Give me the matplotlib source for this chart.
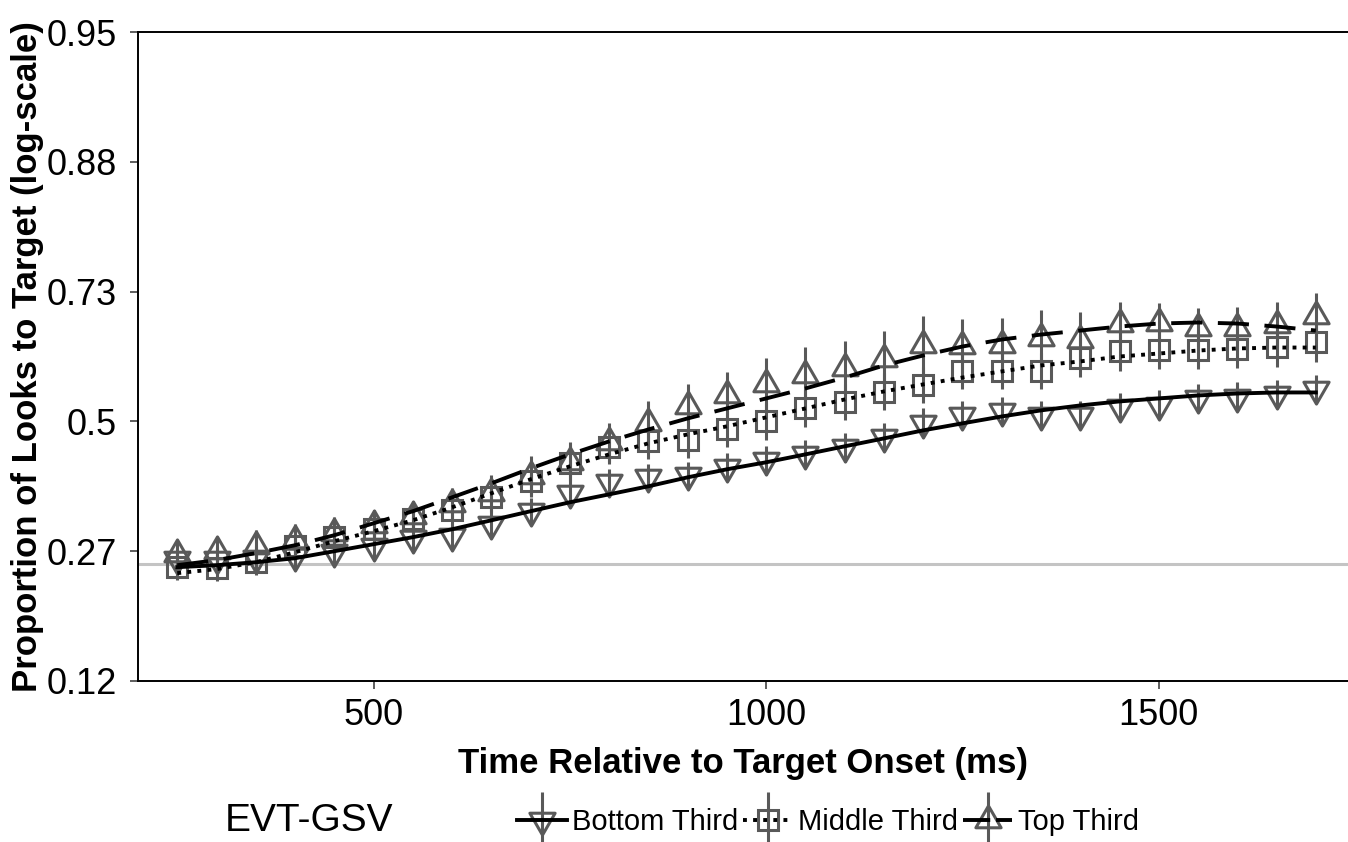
import numpy as np
import matplotlib
matplotlib.use('Agg')
import matplotlib.pyplot as plt
from matplotlib.path import Path
from matplotlib.lines import Line2D
from matplotlib.legend_handler import HandlerTuple

plt.rcParams['font.family'] = ['Liberation Sans', 'DejaVu Sans']

# time bins (ms)
time_ms = [250, 300, 350, 400, 450, 500, 550, 600, 650, 700, 750, 800, 850, 900, 950,
           1000, 1050, 1100, 1150, 1200, 1250, 1300, 1350, 1400, 1450, 1500, 1550, 1600, 1650, 1700]

# observed empirical logits (marker) per group
obs_bottom = [-1.06, -1.06, -1.05, -1.04, -1.01, -0.96, -0.90, -0.88, -0.79, -0.69, -0.55, -0.47, -0.43, -0.41, -0.35,
              -0.30, -0.25, -0.20, -0.12, -0.01, 0.05, 0.08, 0.05, 0.05, 0.11, 0.13, 0.18, 0.19, 0.21, 0.25]
obs_middle = [-1.12, -1.13, -1.08, -0.96, -0.89, -0.83, -0.75, -0.68, -0.58, -0.46, -0.32, -0.20, -0.15, -0.14, -0.06,
              0.00, 0.10, 0.15, 0.23, 0.28, 0.39, 0.39, 0.39, 0.49, 0.54, 0.55, 0.55, 0.56, 0.57, 0.61]
obs_top = [-1.02, -1.00, -0.96, -0.91, -0.86, -0.80, -0.73, -0.64, -0.55, -0.42, -0.31, -0.16, -0.01, 0.12, 0.20,
           0.29, 0.36, 0.41, 0.48, 0.59, 0.58, 0.59, 0.64, 0.63, 0.75, 0.76, 0.72, 0.72, 0.74, 0.81]

# standard errors
se_bottom = [0.09, 0.09, 0.09, 0.09, 0.09, 0.10, 0.10, 0.10, 0.10, 0.10, 0.10, 0.10, 0.10, 0.10, 0.11,
             0.11, 0.11, 0.11, 0.11, 0.11, 0.11, 0.11, 0.11, 0.11, 0.11, 0.11, 0.11, 0.11, 0.11, 0.11]
se_middle = [0.10, 0.10, 0.10, 0.10, 0.11, 0.11, 0.11, 0.12, 0.12, 0.12, 0.13, 0.13, 0.14, 0.14, 0.14,
             0.14, 0.14, 0.14, 0.14, 0.14, 0.14, 0.14, 0.14, 0.15, 0.15, 0.15, 0.15, 0.15, 0.15, 0.15]
se_top = [0.11, 0.11, 0.12, 0.12, 0.12, 0.12, 0.12, 0.13, 0.14, 0.15, 0.15, 0.15, 0.17, 0.17, 0.18,
          0.20, 0.21, 0.21, 0.22, 0.22, 0.21, 0.21, 0.22, 0.21, 0.17, 0.15, 0.15, 0.16, 0.18, 0.18]

# model fits
fit_bottom = [-1.123, -1.108, -1.085, -1.054, -1.000, -0.946, -0.892, -0.831, -0.762, -0.692, -0.623, -0.562, -0.500,
              -0.431, -0.369, -0.315, -0.254, -0.192, -0.131, -0.069, -0.015, 0.038, 0.085, 0.123, 0.154, 0.177,
              0.200, 0.215, 0.223, 0.223]
fit_middle = [-1.169, -1.138, -1.085, -1.008, -0.923, -0.846, -0.762, -0.662, -0.554, -0.446, -0.346, -0.254, -0.169,
              -0.100, -0.038, 0.031, 0.100, 0.169, 0.231, 0.285, 0.338, 0.385, 0.431, 0.462, 0.500, 0.523,
              0.546, 0.562, 0.569, 0.569]
fit_top = [-1.108, -1.069, -1.015, -0.954, -0.877, -0.785, -0.692, -0.585, -0.477, -0.362, -0.254, -0.154, -0.062,
           0.023, 0.100, 0.177, 0.254, 0.338, 0.431, 0.508, 0.577, 0.631, 0.669, 0.700, 0.731, 0.754,
           0.762, 0.754, 0.731, 0.700]

groups = ['Bottom Third', 'Middle Third', 'Top Third']
y_ticks = [-2, -1, 0, 1, 2, 3]
y_ticklabels = ['0.12', '0.27', '0.5', '0.73', '0.88', '0.95']
x_ticks = [500, 1000, 1500]
chance = 0.25

gray = '#595959'
# triangles centred on their centroid, like R's pch 2 / 6
tri_up = Path([(0, 1), (-0.866, -0.5), (0.866, -0.5), (0, 1)],
              [Path.MOVETO, Path.LINETO, Path.LINETO, Path.CLOSEPOLY])
tri_down = Path([(0, -1), (-0.866, 0.5), (0.866, 0.5), (0, -1)],
                [Path.MOVETO, Path.LINETO, Path.LINETO, Path.CLOSEPOLY])

styles = {
    'Bottom Third': dict(marker=tri_down, ms=21, ls='-', key_ls='-'),
    'Middle Third': dict(marker='s', ms=14, ls=(0, (1, 1.6)), key_ls=(0, (1, 1.6))),
    'Top Third': dict(marker=tri_up, ms=21, ls=(0, (8, 4)), key_ls=(0, (7, 1.5))),
}
obs = {'Bottom Third': obs_bottom, 'Middle Third': obs_middle, 'Top Third': obs_top}
ses = {'Bottom Third': se_bottom, 'Middle Third': se_middle, 'Top Third': se_top}
fits = {'Bottom Third': fit_bottom, 'Middle Third': fit_middle, 'Top Third': fit_top}

fig = plt.figure(figsize=(13.48, 8.42), dpi=100)
ax = fig.add_axes([138 / 1348, 1 - 681 / 842, 1210 / 1348, 649 / 842])

ax.axhline(np.log(chance / (1 - chance)), color='#c4c4c4', lw=2.2, zorder=1)

handles = []
for g in groups:
    st = styles[g]
    ax.errorbar(time_ms, obs[g], yerr=ses[g], fmt='none', ecolor=gray, elinewidth=2.2, capsize=0, zorder=2)
    ax.plot(time_ms, obs[g], ls='none', marker=st['marker'], ms=st['ms'], mfc='none', mec=gray, mew=2.2, zorder=3)
    ax.plot(time_ms, fits[g], color='black', lw=2.8, ls=st['ls'], zorder=4)
    handles.append((
        Line2D([], [], ls='none', marker='|', ms=40, mew=2.2, color=gray),
        Line2D([], [], ls='none', marker=st['marker'], ms=st['ms'], mfc='none', mec=gray, mew=2.2),
        Line2D([], [], color='black', lw=2.8, ls=st['key_ls']),
    ))

ax.set_xlim(200, 1741)
ax.set_ylim(-2, 3)
ax.set_xticks(x_ticks)
ax.set_yticks(y_ticks)
ax.set_yticklabels(y_ticklabels)
ax.tick_params(axis='both', direction='out', length=6, width=1.1, color='#333333',
               labelsize=26, labelcolor='black')
ax.tick_params(axis='y', pad=9)
ax.tick_params(axis='x', pad=6)
for s in ['left', 'bottom', 'top']:
    ax.spines[s].set_linewidth(1.4)
    ax.spines[s].set_color('black')
ax.spines['right'].set_visible(False)

ax.set_xlabel('Time Relative to Target Onset (ms)', fontsize=25, fontweight='bold', labelpad=10)
ax.set_ylabel('Proportion of Looks to Target (log-scale)', fontsize=25, fontweight='bold', labelpad=2)

fig.text(225 / 1348, 21 / 842, 'EVT-GSV', fontsize=28, va='center', ha='left')
fig.legend(handles, groups, loc='center left', bbox_to_anchor=(517 / 1348, 20 / 842), ncol=3,
           frameon=False, fontsize=21, handlelength=1.7, handletextpad=0.2, columnspacing=0.15,
           borderpad=0, borderaxespad=0, handler_map={tuple: HandlerTuple(ndivide=1, pad=0)})

fig.savefig('out.png', dpi=100)
